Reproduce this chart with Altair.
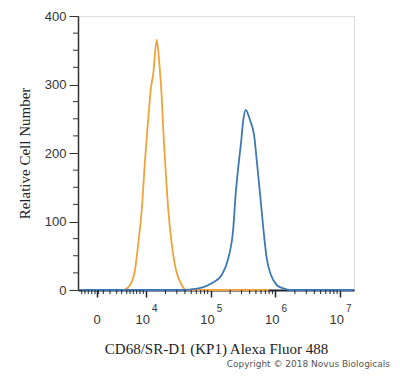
import altair as alt
import pandas as pd

# Orange histogram (x = log10 display units, y = count)
orange_x = [3.30, 3.474, 3.629, 3.675, 3.753, 3.830, 3.881, 3.934, 3.985, 4.020, 4.051, 4.073,
            4.113, 4.165, 4.206, 4.243, 4.267, 4.294, 4.345, 4.397, 4.464, 4.552, 4.629, 4.835, 5.90]
orange_y = [0, 0, 0, 0.7, 7.3, 29.2, 68.2, 116.8, 189.8, 233.6, 267.6, 292.0,
            316.4, 365.0, 331.0, 282.2, 233.6, 189.8, 116.8, 68.2, 29.2, 7.3, 0, 0, 0]

# Blue histogram
blue_x = [3.00, 4.603, 4.757, 4.861, 5.015, 5.170, 5.272, 5.349, 5.386, 5.427, 5.468, 5.504,
          5.541, 5.607, 5.674, 5.711, 5.762, 5.813, 5.866, 5.932, 6.020, 6.122, 6.226, 7.199]
blue_y = [0, 0, 1.5, 3.4, 9.8, 21.9, 46.3, 90.1, 140.1, 180.0, 214.2, 248.2,
          262.8, 248.2, 223.8, 189.8, 141.2, 90.1, 46.3, 21.9, 7.3, 2.5, 0, 0]

x_major = [3.243, 4, 5, 6, 7]
zero_pos = [3.243]
decade_pos = [4, 5, 6, 7]
decade_exp = ["4", "5", "6", "7"]
x_minor = [3.006, 3.057, 3.108, 3.161, 3.212, 3.263, 3.340, 3.444, 3.547, 3.624, 3.702, 3.753,
           3.804, 3.856, 3.907, 3.958,
           4.301, 4.477, 4.602, 4.699, 4.778, 4.845, 4.903, 4.954,
           5.301, 5.477, 5.602, 5.699, 5.778, 5.845, 5.903, 5.954,
           6.301, 6.477, 6.602, 6.699, 6.778, 6.845, 6.903, 6.954]
y_major = [0, 100, 200, 300, 400]
y_minor = [25, 50, 75, 125, 150, 175, 225, 250, 275, 325, 350, 375]

x_title = "CD68/SR-D1 (KP1) Alexa Fluor 488"
y_title = "Relative Cell Number"
copyright_text = ["Copyright \u00a9 2018 Novus Biologicals"]

W, H = 276, 274
XDOM = [2.949, 7.215]
YDOM = [0, 400]

curves = pd.concat([
    pd.DataFrame({"d": orange_x, "v": orange_y, "s": "orange"}),
    pd.DataFrame({"d": blue_x, "v": blue_y, "s": "blue"}),
])

xscale = alt.Scale(domain=XDOM, nice=False, zero=False)
yscale = alt.Scale(domain=YDOM, nice=False)

lines = alt.Chart(curves).mark_line(strokeWidth=1.8, interpolate="monotone").encode(
    x=alt.X("d:Q", scale=xscale,
            axis=alt.Axis(values=x_major, labels=False, tickSize=7, tickColor="#1c2530",
                          tickWidth=1.5, domainColor="#1c2530", domainWidth=2.2, grid=False,
                          title=x_title, titleFont="Liberation Serif", titleFontSize=15,
                          titleFontWeight="normal", titleColor="#222", titlePadding=44)),
    y=alt.Y("v:Q", scale=yscale,
            axis=alt.Axis(values=y_major, tickSize=9, tickColor="#333", domainColor="#333",
                          domainWidth=1.5, grid=False, labelFont="Liberation Sans",
                          labelFontSize=13, labelColor="#333", labelPadding=3,
                          title=y_title, titleFont="Liberation Serif", titleFontSize=15,
                          titleFontWeight="normal", titleColor="#222", titlePadding=12)),
    color=alt.Color("s:N", scale=alt.Scale(domain=["orange", "blue"],
                                           range=["#f0a23c", "#3d79b6"]), legend=None),
    order=alt.value(0),
)

xminor = alt.Chart(pd.DataFrame({"d": x_minor})).mark_rule(color="#1c2530", strokeWidth=1).encode(
    x=alt.X("d:Q", scale=xscale), y=alt.value(H), y2=alt.value(H + 4))

yminor = alt.Chart(pd.DataFrame({"v": y_minor})).mark_rule(color="#333", strokeWidth=1).encode(
    y=alt.Y("v:Q", scale=yscale), x=alt.value(0), x2=alt.value(-5))

zero_lbl = alt.Chart(pd.DataFrame({"d": zero_pos, "t": ["0"]})).mark_text(
    font="Liberation Sans", fontSize=13, color="#333", align="center", baseline="middle"
).encode(x=alt.X("d:Q", scale=xscale), y=alt.value(H + 30), text="t:N")

base_lbl = alt.Chart(pd.DataFrame({"d": decade_pos, "t": ["10"] * 4})).mark_text(
    font="Liberation Sans", fontSize=13, color="#333", align="right", baseline="middle", dx=4
).encode(x=alt.X("d:Q", scale=xscale), y=alt.value(H + 30), text="t:N")

exp_lbl = alt.Chart(pd.DataFrame({"d": decade_pos, "t": decade_exp})).mark_text(
    font="Liberation Sans", fontSize=10, color="#333", align="left", baseline="middle", dx=6
).encode(x=alt.X("d:Q", scale=xscale), y=alt.value(H + 19), text="t:N")

copy_lbl = alt.Chart(pd.DataFrame({"t": copyright_text})).mark_text(
    font="DejaVu Sans", fontSize=9, color="#555", align="right", baseline="middle"
).encode(x=alt.value(W + 36), y=alt.value(H + 74), text="t:N")

chart = alt.layer(lines, xminor, yminor, zero_lbl, base_lbl, exp_lbl, copy_lbl).properties(
    width=W, height=H,
    autosize=alt.AutoSizeParams(type="none"),
    padding={"left": 70, "top": 8, "right": 38, "bottom": 80},
).configure_view(stroke=None).configure(background="white")

chart.save("out.html", embed_options={"renderer": "svg", "actions": False})
